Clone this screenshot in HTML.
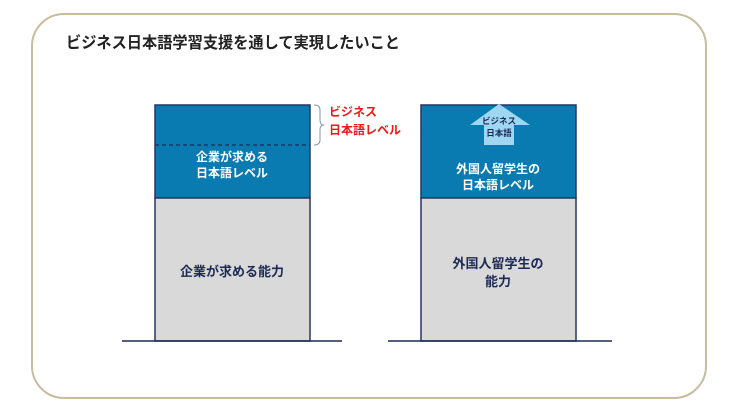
<!DOCTYPE html>
<html><head><meta charset="utf-8"><style>
html,body{margin:0;padding:0;background:#fff;width:736px;height:414px;overflow:hidden}
svg text{font-family:"Liberation Sans","Noto Sans CJK JP",sans-serif;font-weight:bold}
</style></head><body>
<svg width="736" height="414" viewBox="0 0 736 414" xmlns="http://www.w3.org/2000/svg">
<rect x="32" y="14" width="674" height="384" rx="32" fill="#fff" stroke="#c8bc9f" stroke-width="2"/>
<text x="66" y="48" font-size="16" fill="#222" textLength="334" lengthAdjust="spacingAndGlyphs">ビジネス日本語学習支援を通して実現したいこと</text>
<!-- left -->
<rect x="155" y="105" width="155" height="93" fill="#0a7bb0" stroke="#2a3466" stroke-width="1.5"/>
<rect x="155" y="198" width="155" height="143" fill="#d9d9d9" stroke="#2a3466" stroke-width="1.5"/>
<line x1="155" y1="145" x2="310" y2="145" stroke="#1d2a55" stroke-width="1.2" stroke-dasharray="4,3"/>
<path d="M314 105 Q320 105 320 110 L320 120 Q320 125 324 125 Q320 125 320 130 L320 140 Q320 145 314 145" fill="none" stroke="#8a93a8" stroke-width="1"/>
<text x="329" y="116" font-size="12" fill="#f01818">ビジネス</text>
<text x="329" y="134" font-size="12" fill="#f01818">日本語レベル</text>
<text x="232" y="161" font-size="12" fill="#fff" text-anchor="middle">企業が求める</text>
<text x="232" y="177" font-size="12" fill="#fff" text-anchor="middle">日本語レベル</text>
<text x="232" y="276" font-size="13" fill="#1d2a55" text-anchor="middle">企業が求める能力</text>
<line x1="122" y1="341" x2="342" y2="341" stroke="#1d2a55" stroke-width="1.5"/>
<!-- right -->
<rect x="421" y="105" width="155" height="93" fill="#0a7bb0" stroke="#2a3466" stroke-width="1.5"/>
<rect x="421" y="198" width="155" height="143" fill="#d9d9d9" stroke="#2a3466" stroke-width="1.5"/>
<polygon points="499,104 530,125 514,125 514,145 484,145 484,125 470,125" fill="#9fd6f2"/>
<text x="499" y="124" font-size="8.5" fill="#1d2a55" text-anchor="middle">ビジネス</text>
<text x="499" y="136" font-size="8.5" fill="#1d2a55" text-anchor="middle">日本語</text>
<text x="498" y="173" font-size="12" fill="#fff" text-anchor="middle">外国人留学生の</text>
<text x="498" y="189" font-size="12" fill="#fff" text-anchor="middle">日本語レベル</text>
<text x="498" y="268" font-size="13" fill="#1d2a55" text-anchor="middle">外国人留学生の</text>
<text x="498" y="286" font-size="13" fill="#1d2a55" text-anchor="middle">能力</text>
<line x1="388" y1="341" x2="612" y2="341" stroke="#1d2a55" stroke-width="1.5"/>
</svg>
</body></html>
